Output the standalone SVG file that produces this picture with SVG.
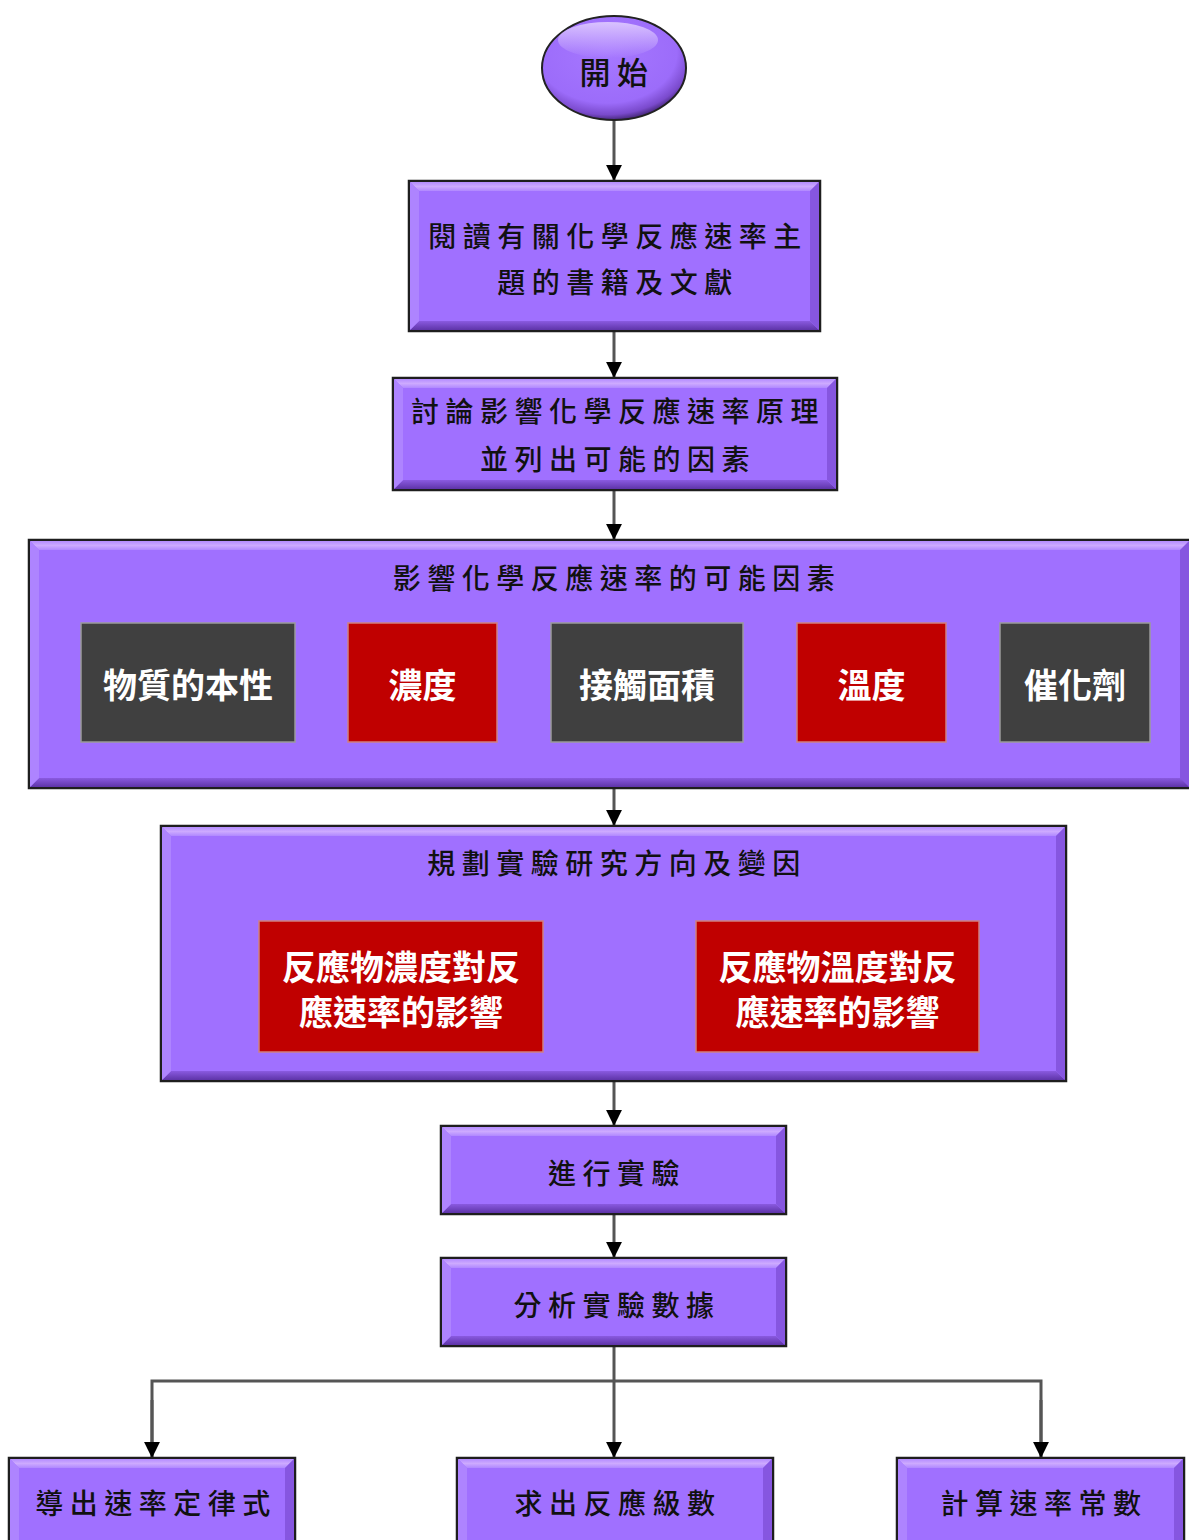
<svg xmlns="http://www.w3.org/2000/svg" width="1189" height="1540" viewBox="0 0 1189 1540">
<defs>
<style>
.box{fill:#A070FF;stroke:#1e1e1e;stroke-width:2.5}
.bt{fill:url(#gTop)}
.bb{fill:url(#gBot)}
.bl{fill:#AE84FF}
.br{fill:#8656E0}
.t{font-family:"Noto Sans CJK TC","Noto Sans CJK SC",sans-serif;font-size:28px;font-weight:500;fill:#111;letter-spacing:6.5px;text-anchor:middle;dominant-baseline:central}
.w{font-family:"Noto Sans CJK TC","Noto Sans CJK SC",sans-serif;font-size:34px;font-weight:bold;fill:#fff;text-anchor:middle;dominant-baseline:central}
.dk{fill:#404040;stroke:#9a9a9a;stroke-width:1.5}
.rd{fill:#C00000;stroke:#d08080;stroke-width:1.5}
.ln{fill:none;stroke:#555;stroke-width:3}
</style>
<linearGradient id="gTop" x1="0" y1="0" x2="0" y2="1">
<stop offset="0" stop-color="#B48CFF"/>
<stop offset="0.5" stop-color="#CDAAFF"/>
<stop offset="1" stop-color="#B088FF"/>
</linearGradient>
<linearGradient id="gBot" x1="0" y1="0" x2="0" y2="1">
<stop offset="0" stop-color="#8A5AE0"/>
<stop offset="1" stop-color="#5E34A8"/>
</linearGradient>
<radialGradient id="gEl" cx="0.45" cy="0.35" r="0.65">
<stop offset="0" stop-color="#A678FF"/>
<stop offset="0.75" stop-color="#9C6CFA"/>
<stop offset="0.92" stop-color="#7A4ACC"/>
<stop offset="1" stop-color="#4A2A80"/>
</radialGradient>
<linearGradient id="gElHi" x1="0" y1="0" x2="0" y2="1">
<stop offset="0" stop-color="#E0CCFF" stop-opacity="0.9"/>
<stop offset="1" stop-color="#E0CCFF" stop-opacity="0"/>
</linearGradient>
<marker id="ar" viewBox="0 0 10 10" refX="10" refY="5" markerWidth="5.3" markerHeight="5.3" markerUnits="strokeWidth" orient="auto">
<path d="M0,0 L10,5 L0,10 Z" fill="#000"/>
</marker>
</defs>
<rect width="1189" height="1540" fill="#fff"/>

<g id="connectors">
<line class="ln" x1="614" y1="120" x2="614" y2="181" marker-end="url(#ar)"/>
<line class="ln" x1="614" y1="331" x2="614" y2="378" marker-end="url(#ar)"/>
<line class="ln" x1="614" y1="490" x2="614" y2="540" marker-end="url(#ar)"/>
<line class="ln" x1="614" y1="788" x2="614" y2="826" marker-end="url(#ar)"/>
<line class="ln" x1="614" y1="1081" x2="614" y2="1126" marker-end="url(#ar)"/>
<line class="ln" x1="614" y1="1214" x2="614" y2="1258" marker-end="url(#ar)"/>
<line class="ln" x1="614" y1="1346" x2="614" y2="1458" marker-end="url(#ar)"/>
<path class="ln" d="M152,1458 L152,1381 L1041,1381 L1041,1458"/>
<line class="ln" x1="152" y1="1400" x2="152" y2="1458" marker-end="url(#ar)"/>
<line class="ln" x1="1041" y1="1400" x2="1041" y2="1458" marker-end="url(#ar)"/>
</g>

<g id="start">
<ellipse cx="614" cy="68" rx="72" ry="52" fill="url(#gEl)" stroke="#222" stroke-width="2"/>
<ellipse cx="608" cy="40" rx="50" ry="18" fill="url(#gElHi)"/>
<text class="t" x="617" y="70" style="font-size:31px">開始</text>
</g>

<g id="read">
<rect class="box" x="409" y="181" width="411" height="150"/>
<polygon class="bt" points="410,182 819,182 810,191 419,191"/>
<polygon class="bb" points="410,330 819,330 810,321 419,321"/>
<polygon class="bl" points="410,182 419,191 419,321 410,330"/>
<polygon class="br" points="819,182 810,191 810,321 819,330"/>
<text class="t" x="618" y="235">閱讀有關化學反應速率主</text>
<text class="t" x="618" y="281">題的書籍及文獻</text>
</g>

<g id="discuss">
<rect class="box" x="393" y="378" width="444" height="112"/>
<polygon class="bt" points="394,379 836,379 827,388 403,388"/>
<polygon class="bb" points="394,489 836,489 827,480 403,480"/>
<polygon class="bl" points="394,379 403,388 403,480 394,489"/>
<polygon class="br" points="836,379 827,388 827,480 836,489"/>
<text class="t" x="618" y="410">討論影響化學反應速率原理</text>
<text class="t" x="618" y="458">並列出可能的因素</text>
</g>

<g id="factors">
<rect class="box" x="29" y="540" width="1170" height="248"/>
<polygon class="bt" points="30,541 1198,541 1189,550 39,550"/>
<polygon class="bb" points="30,787 1198,787 1189,778 39,778"/>
<polygon class="bl" points="30,541 39,550 39,778 30,787"/>
<polygon class="br" points="1189,541 1180,550 1180,778 1189,787"/>
<text class="t" x="617" y="577">影響化學反應速率的可能因素</text>
<g id="f1"><rect class="dk" x="81" y="623" width="214" height="119"/><text class="w" x="188" y="683">物質的本性</text></g>
<g id="f2"><rect class="rd" x="348" y="623" width="149" height="119"/><text class="w" x="422.5" y="683">濃度</text></g>
<g id="f3"><rect class="dk" x="551" y="623" width="192" height="119"/><text class="w" x="647" y="683">接觸面積</text></g>
<g id="f4"><rect class="rd" x="797" y="623" width="149" height="119"/><text class="w" x="871.5" y="683">溫度</text></g>
<g id="f5"><rect class="dk" x="1000" y="623" width="150" height="119"/><text class="w" x="1075" y="683">催化劑</text></g>
</g>

<g id="plan">
<rect class="box" x="161" y="826" width="905" height="255"/>
<polygon class="bt" points="162,827 1065,827 1056,836 171,836"/>
<polygon class="bb" points="162,1080 1065,1080 1056,1071 171,1071"/>
<polygon class="bl" points="162,827 171,836 171,1071 162,1080"/>
<polygon class="br" points="1065,827 1056,836 1056,1071 1065,1080"/>
<text class="t" x="617" y="862">規劃實驗研究方向及變因</text>
<g id="p1"><rect class="rd" x="259" y="921" width="284" height="131"/><text class="w" x="401" y="965">反應物濃度對反</text><text class="w" x="401" y="1010">應速率的影響</text></g>
<g id="p2"><rect class="rd" x="696" y="921" width="283" height="131"/><text class="w" x="837.5" y="965">反應物溫度對反</text><text class="w" x="837.5" y="1010">應速率的影響</text></g>
</g>

<g id="experiment">
<rect class="box" x="441" y="1126" width="345" height="88"/>
<polygon class="bt" points="442,1127 785,1127 776,1136 451,1136"/>
<polygon class="bb" points="442,1213 785,1213 776,1204 451,1204"/>
<polygon class="bl" points="442,1127 451,1136 451,1204 442,1213"/>
<polygon class="br" points="785,1127 776,1136 776,1204 785,1213"/>
<text class="t" x="617" y="1172">進行實驗</text>
</g>

<g id="analyze">
<rect class="box" x="441" y="1258" width="345" height="88"/>
<polygon class="bt" points="442,1259 785,1259 776,1268 451,1268"/>
<polygon class="bb" points="442,1345 785,1345 776,1336 451,1336"/>
<polygon class="bl" points="442,1259 451,1268 451,1336 442,1345"/>
<polygon class="br" points="785,1259 776,1268 776,1336 785,1345"/>
<text class="t" x="617" y="1304">分析實驗數據</text>
</g>

<g id="ratelaw">
<rect class="box" x="9" y="1458" width="286" height="90"/>
<polygon class="bt" points="10,1459 294,1459 285,1468 19,1468"/>
<polygon class="bl" points="10,1459 19,1468 19,1545 10,1545"/>
<polygon class="br" points="294,1459 285,1468 285,1545 294,1545"/>
<text class="t" x="156" y="1502">導出速率定律式</text>
</g>

<g id="order">
<rect class="box" x="457" y="1458" width="316" height="90"/>
<polygon class="bt" points="458,1459 772,1459 763,1468 467,1468"/>
<polygon class="bl" points="458,1459 467,1468 467,1545 458,1545"/>
<polygon class="br" points="772,1459 763,1468 763,1545 772,1545"/>
<text class="t" x="618" y="1502">求出反應級數</text>
</g>

<g id="constant">
<rect class="box" x="897" y="1458" width="287" height="90"/>
<polygon class="bt" points="898,1459 1183,1459 1174,1468 907,1468"/>
<polygon class="bl" points="898,1459 907,1468 907,1545 898,1545"/>
<polygon class="br" points="1183,1459 1174,1468 1174,1545 1183,1545"/>
<text class="t" x="1044" y="1502">計算速率常數</text>
</g>
</svg>
